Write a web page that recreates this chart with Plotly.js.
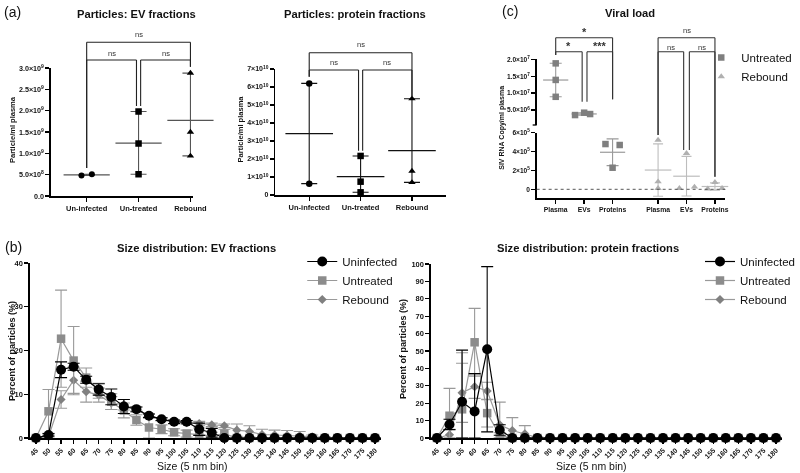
<!DOCTYPE html>
<html><head><meta charset="utf-8">
<script src="https://cdn.plot.ly/plotly-3.0.1.min.js"></script>
<style>html,body{margin:0;padding:0;background:#fff}#chart{width:800px;height:473px;filter:grayscale(100%)}</style>
</head><body><div id="chart"></div>
<script>
// ================= DATA =================
// (a) particles per ml plasma
const groupsA = ['Un-infected', 'Un-treated', 'Rebound'];
const evUninfected = [4.8e8, 5.1e8];
const evUntreated = [1.98e9, 1.23e9, 5.1e8];
const evRebound = [2.88e9, 1.5e9, 9.4e8];
const protUninfected = [6.2e10, 6.3e9];
const protUntreated = [2.17e10, 7.4e9, 1.5e9];
const protRebound = [5.35e10, 1.33e10, 7.0e9];
const evTickVals = [0, 5e8, 1e9, 1.5e9, 2e9, 2.5e9, 3e9];
const evTickText = ['0.0', '5.0×10<sup>8</sup>', '1.0×10<sup>9</sup>', '1.5×10<sup>9</sup>', '2.0×10<sup>9</sup>', '2.5×10<sup>9</sup>', '3.0×10<sup>9</sup>'];
const protTickVals = [0, 1e10, 2e10, 3e10, 4e10, 5e10, 6e10, 7e10];
const protTickText = ['0', '1×10<sup>10</sup>', '2×10<sup>10</sup>', '3×10<sup>10</sup>', '4×10<sup>10</sup>', '5×10<sup>10</sup>', '6×10<sup>10</sup>', '7×10<sup>10</sup>'];

// (c) viral load (SIV RNA copies/ml plasma)
const vlCategories = ['Plasma', 'EVs', 'Proteins', 'Plasma', 'EVs', 'Proteins'];
const vlUntreatedPlasma = [1.88e7, 1.39e7, 8.9e6];
const vlUntreatedEVs = [3.5e6, 4.2e6, 3.8e6];
const vlUntreatedProteins = [4.78e5, 4.68e5, 2.28e5];
const vlReboundPlasma = [5.2e5, 8.0e4, 1.0e4];
const vlReboundEVs = [3.8e5, 1.0e4, 2.5e4];
const vlReboundProteins = [5.0e3, 7.4e4, 1.0e4];
const vlUpperTickVals = [5e6, 1e7, 1.5e7, 2e7];
const vlUpperTickText = ['5.0×10<sup>6</sup>', '1.0×10<sup>7</sup>', '1.5×10<sup>7</sup>', '2.0×10<sup>7</sup>'];
const vlLowerTickVals = [0, 2e5, 4e5, 6e5];
const vlLowerTickText = ['0', '2×10<sup>5</sup>', '4×10<sup>5</sup>', '6×10<sup>5</sup>'];

// (b) size distribution, percent of particles per 5 nm bin (mean, SD)
const sizeBins = ['45','50','55','60','65','70','75','80','85','90','95','100','105','110','115','120','125','130','135','140','145','150','155','160','165','170','175','180'];
const evUninfectedMean = [0, 0.7, 15.6, 16.3, 13.3, 11.1, 9.4, 7.2, 6.6, 5.1, 4.3, 3.7, 3.7, 2.0, 1.2, 0, 0, 0, 0, 0, 0, 0, 0, 0, 0, 0, 0, 0];
const evUninfectedSD   = [0, 0.3, 1.8, 0.8, 0.8, 1.3, 1.8, 1.6, 0.5, 0.4, 0.3, 0.4, 0.3, 1.4, 1.0, 0, 0, 0, 0, 0, 0, 0, 0, 0, 0, 0, 0, 0];
const evUntreatedMean  = [0, 6.1, 22.7, 17.7, 13.8, 10.8, 8.3, 6.3, 4.1, 2.4, 2.0, 1.3, 1.0, 0.8, 0.5, 1.0, 0, 0, 0, 0, 0, 0, 0, 0, 0, 0, 0, 0];
const evUntreatedSD    = [0, 5.0, 11.1, 7.8, 2.2, 1.7, 1.8, 1.7, 1.2, 2.4, 1.0, 0.8, 0.8, 1.5, 0.8, 1.0, 0, 0, 0, 0, 0, 0, 0, 0, 0, 0, 0, 0];
const evReboundMean    = [0, 0.3, 8.8, 13.2, 10.6, 9.8, 8.0, 7.6, 6.5, 5.0, 4.3, 3.6, 3.5, 3.3, 3.0, 2.8, 1.8, 1.5, 0.8, 0.7, 0.6, 0.5, 0.3, 0.1, 0, 0, 0, 0];
const evReboundSD      = [0, 0.3, 2.0, 3.0, 2.4, 1.6, 1.5, 1.2, 0.6, 0.5, 0.4, 0.4, 0.4, 0.5, 0.4, 0.4, 1.4, 1.3, 1.2, 1.1, 1.1, 1.0, 0.4, 0.2, 0, 0, 0, 0];
const protUninfectedMean = [0, 7.8, 20.8, 15.3, 51.0, 4.6, 0, 0, 0, 0, 0, 0, 0, 0, 0, 0, 0, 0, 0, 0, 0, 0, 0, 0, 0, 0, 0, 0];
const protUninfectedSD   = [0, 3.0, 29.7, 21.7, 47.5, 3.0, 0, 0, 0, 0, 0, 0, 0, 0, 0, 0, 0, 0, 0, 0, 0, 0, 0, 0, 0, 0, 0, 0];
const protUntreatedMean  = [0, 12.8, 16.5, 55.0, 14.3, 1.5, 0, 0, 0, 0, 0, 0, 0, 0, 0, 0, 0, 0, 0, 0, 0, 0, 0, 0, 0, 0, 0, 0];
const protUntreatedSD    = [0, 15.7, 32.5, 19.5, 8.0, 1.5, 0, 0, 0, 0, 0, 0, 0, 0, 0, 0, 0, 0, 0, 0, 0, 0, 0, 0, 0, 0, 0, 0];
const protReboundMean    = [0, 1.8, 26.0, 29.5, 27.0, 7.6, 4.3, 2.4, 0.3, 0, 0, 0, 0, 0, 0, 0, 0, 0, 0, 0, 0, 0, 0, 0, 0, 0, 0, 0];
const protReboundSD      = [0, 3.2, 17.0, 6.7, 5.0, 13.0, 7.4, 4.7, 0.3, 0, 0, 0, 0, 0, 0, 0, 0, 0, 0, 0, 0, 0, 0, 0, 0, 0, 0, 0];

// horizontal scatter offsets of individual points (category units)
const jitEvUninfected = [-0.1, 0.1];
const jitVlUntreatedEVs = [-0.32, 0, 0.21];
const jitVlUntreatedProteins = [-0.25, 0.25, 0];
const jitVlReboundEVs = [0, -0.25, 0.28];
const jitVlReboundProteins = [-0.25, 0, 0.25];

// ================= HELPERS =================
const W = 800, H = 473;
const F = 'Arial, "Liberation Sans", Helvetica, sans-serif';
const dx = p => p / W;
const dy = p => 1 - p / H;
const mean = a => a.reduce((s, v) => s + v, 0) / a.length;
const sd = a => { const m = mean(a); return Math.sqrt(a.reduce((s, v) => s + (v - m) * (v - m), 0) / (a.length - 1)); };

const traces = [];

// dot plot: points + mean line + error (range or SD)
function dots(vals, pos, jit, xa, ya, sym, msize, mcolor, lcolor, errKind, meanW, capW, extra) {
  const m = mean(vals);
  let up, dn;
  if (errKind === 'range') { up = Math.max(...vals) - m; dn = m - Math.min(...vals); }
  else { up = sd(vals); dn = up; }
  traces.push({
    type: 'scatter', mode: 'markers', xaxis: xa, yaxis: ya, x: [pos], y: [m],
    marker: {symbol: 'line-ew', size: meanW, color: lcolor, line: {width: 1.2, color: lcolor}},
    error_y: {type: 'data', symmetric: false, array: [up], arrayminus: [dn], width: capW, thickness: 1.1, color: lcolor},
    showlegend: false, hoverinfo: 'skip', cliponaxis: false
  });
  traces.push(Object.assign({
    type: 'scatter', mode: 'markers', xaxis: xa, yaxis: ya,
    x: vals.map((v, i) => pos + (jit ? jit[i] : 0)), y: vals,
    marker: {symbol: sym, size: msize, color: mcolor},
    showlegend: false, cliponaxis: false
  }, extra || {}));
}

// (a) left
dots(evUninfected, 0, jitEvUninfected, 'x', 'y', 'circle', 6, '#000', '#555', 'range', 33, 8);
dots(evUntreated, 1, null, 'x', 'y', 'square', 6.5, '#000', '#555', 'range', 33, 8);
dots(evRebound, 2, null, 'x', 'y', 'triangle-up', 6.5, '#000', '#555', 'range', 33, 8);
// (a) right
dots(protUninfected, 0, null, 'x2', 'y2', 'circle', 6.5, '#000', '#111', 'range', 34, 8);
dots(protUntreated, 1, null, 'x2', 'y2', 'square', 6.5, '#000', '#111', 'range', 34, 8);
dots(protRebound, 2, null, 'x2', 'y2', 'triangle-up', 6.5, '#000', '#111', 'range', 34, 8);
// (c)
const cU = '#7f7f7f', cUl = '#9a9a9a', cR = '#b0b0b0', cRl = '#bdbdbd';
dots(vlUntreatedPlasma, 1, null, 'x3', 'y4', 'square', 6.5, cU, cUl, 'sd', 18, 6,
  {showlegend: true, name: 'Untreated', legend: 'legend3'});
dots(vlUntreatedEVs, 2, jitVlUntreatedEVs, 'x3', 'y4', 'square', 6.5, cU, cUl, 'sd', 18, 6);
dots(vlUntreatedProteins, 3, jitVlUntreatedProteins, 'x3', 'y3', 'square', 6.5, cU, cUl, 'sd', 18, 6);
dots(vlReboundPlasma, 4.6, null, 'x3', 'y3', 'triangle-up', 6.5, cR, cRl, 'sd', 19, 5,
  {showlegend: true, name: 'Rebound', legend: 'legend3'});
dots(vlReboundEVs, 5.6, jitVlReboundEVs, 'x3', 'y3', 'triangle-up', 6.5, cR, cRl, 'sd', 19, 5);
dots(vlReboundProteins, 6.6, jitVlReboundProteins, 'x3', 'y3', 'triangle-up', 6.5, cR, cRl, 'sd', 19, 5);

// (b) size distribution lines
function sizeLine(name, m, s, xa, ya, leg, sym, size, color, lcolor) {
  traces.push({
    type: 'scatter', mode: 'lines+markers', name: name, legend: leg, xaxis: xa, yaxis: ya,
    x: sizeBins, y: m,
    line: {color: lcolor, width: 1.2},
    marker: {symbol: sym, size: size, color: color},
    error_y: {type: 'data', symmetric: false, array: s, arrayminus: s.map((v, i) => Math.min(v, m[i])),
      width: 6, thickness: 1.1, color: lcolor},
    cliponaxis: false
  });
}
sizeLine('Rebound', evReboundMean, evReboundSD, 'x5', 'y5', 'legend', 'diamond', 7, '#808080', '#9a9a9a');
sizeLine('Untreated', evUntreatedMean, evUntreatedSD, 'x5', 'y5', 'legend', 'square', 8.5, '#8c8c8c', '#999999');
sizeLine('Uninfected', evUninfectedMean, evUninfectedSD, 'x5', 'y5', 'legend', 'circle', 10, '#000', '#000');
sizeLine('Rebound', protReboundMean, protReboundSD, 'x6', 'y6', 'legend2', 'diamond', 7, '#808080', '#9a9a9a');
sizeLine('Untreated', protUntreatedMean, protUntreatedSD, 'x6', 'y6', 'legend2', 'square', 8.5, '#8c8c8c', '#999999');
sizeLine('Uninfected', protUninfectedMean, protUninfectedSD, 'x6', 'y6', 'legend2', 'circle', 10, '#000', '#000');

// ================= LAYOUT =================
const axBase = {
  showline: true, linecolor: '#000', linewidth: 1.5, ticks: 'outside', ticklen: 4, tickwidth: 1.3,
  tickcolor: '#000', showgrid: false, zeroline: false, fixedrange: true,
  tickfont: {family: F, size: 7, color: '#111', weight: 'bold'}
};
const ax = o => Object.assign({}, axBase, o, {tickfont: Object.assign({}, axBase.tickfont, o.tickfont || {})});

const shapes = [];
const annotations = [];
function seg(xref, x0, x1, py0, py1, color) {
  shapes.push({type: 'line', xref: xref, yref: 'paper', x0: x0, x1: x1, y0: dy(py0), y1: dy(py1),
    line: {color: color || '#222', width: 1.1}});
}
function bracket(xref, x1, x2, top, leg1, leg2, label, labelY, lsize, color) {
  seg(xref, x1, x1, top, leg1, color);
  seg(xref, x1, x2, top, top, color);
  seg(xref, x2, x2, top, leg2, color);
  annotations.push({xref: xref, yref: 'paper', x: (x1 + x2) / 2, y: dy(labelY),
    text: label === 'ns' ? label : '<b>' + label + '</b>', showarrow: false,
    xanchor: 'center', yanchor: 'middle', font: {family: F, size: lsize, color: '#333333'}});
}
// (a) brackets
bracket('x', 0, 2, 42.3, 168, 66.7, 'ns', 34, 7.5);
bracket('x', 0, 0.96, 60, 168, 106, 'ns', 54, 7.5);
bracket('x', 1.04, 2, 60, 106, 66.7, 'ns', 54, 7.5);
bracket('x2', 0, 2, 52.7, 76.7, 96.7, 'ns', 45, 7.5);
bracket('x2', 0, 0.96, 70, 76.7, 150.7, 'ns', 63, 7.5);
bracket('x2', 1.04, 2, 70, 150.7, 96.7, 'ns', 63, 7.5);
// (c) brackets
bracket('x3', 1, 3, 37.7, 55, 99.3, '*', 32, 11, '#333');
bracket('x3', 1, 1.93, 51.7, 55, 101.7, '*', 46, 11, '#333');
bracket('x3', 2.1, 3, 51.7, 101.7, 99.3, '***', 46, 11, '#333');
bracket('x3', 4.6, 6.6, 37.7, 135, 176.7, 'ns', 30, 7.5, '#333');
bracket('x3', 4.6, 5.5, 51.7, 135, 150, 'ns', 47, 7.5, '#333');
bracket('x3', 5.7, 6.6, 51.7, 150, 176.7, 'ns', 47, 7.5, '#333');
// (c) zero line and axis break mark
shapes.push({type: 'line', xref: 'x3 domain', yref: 'y3', x0: 0, x1: 1, y0: 0, y1: 0,
  line: {color: '#555', width: 1, dash: 'dot'}});
shapes.push({type: 'line', xref: 'paper', yref: 'paper', x0: dx(534), x1: dx(538), y0: dy(125), y1: dy(125),
  line: {color: '#000', width: 1.3}});

function txt(x, y, t, size, opts) {
  annotations.push(Object.assign({xref: 'paper', yref: 'paper', x: dx(x), y: dy(y), text: t, showarrow: false,
    xanchor: 'center', yanchor: 'middle', font: {family: F, size: size, color: '#111'}}, opts || {}));
}
txt(13, 12, '(a)', 14);
txt(511, 11, '(c)', 14);
txt(14, 247, '(b)', 14);
txt(137, 14, '<b>Particles: EV fractions</b>', 11.2);
txt(356, 14, '<b>Particles: protein fractions</b>', 11.2);
txt(632, 13, '<b>Viral load</b>', 11.2);
txt(197, 248, '<b>Size distribution: EV fractions</b>', 11.2);
txt(589, 248, '<b>Size distribution: protein fractions</b>', 11.2);
txt(193, 466, 'Size (5 nm bin)', 10.5);
txt(593, 466, 'Size (5 nm bin)', 10.5);
txt(12, 129, '<b>Particle/ml plasma</b>', 7.5, {textangle: -90});
txt(241, 129, '<b>Particle/ml plasma</b>', 7.5, {textangle: -90});
txt(503, 128, '<b>SIV RNA Copy/ml plasma</b>', 7, {textangle: -90});
txt(12, 351, '<b>Percent of particles (%)</b>', 9, {textangle: -90});
txt(404, 349, '<b>Percent of particles (%)</b>', 9, {textangle: -90});

const legFont = {family: F, size: 11.5, color: '#111'};
const layout = {
  width: W, height: H, autosize: false,
  margin: {l: 0, r: 0, t: 0, b: 0, pad: 0},
  paper_bgcolor: '#fff', plot_bgcolor: 'rgba(0,0,0,0)',
  font: {family: F, color: '#111'},
  showlegend: true,
  xaxis: ax({domain: [dx(51), dx(193)], anchor: 'y', range: [-0.69, 2.04], tickmode: 'array', tickvals: [0, 1, 2], ticktext: groupsA, tickfont: {size: 7.5}}),
  yaxis: ax({domain: [dy(196), dy(68)], anchor: 'x', range: [0, 3e9], tickmode: 'array', tickvals: evTickVals, ticktext: evTickText, tickfont: {size: 7.2}}),
  xaxis2: ax({domain: [dx(276), dx(447)], anchor: 'y2', range: [-0.66, 2.66], tickmode: 'array', tickvals: [0, 1, 2], ticktext: groupsA, tickfont: {size: 7.5}}),
  yaxis2: ax({domain: [dy(195), dy(69)], anchor: 'x2', range: [0, 7e10], tickmode: 'array', tickvals: protTickVals, ticktext: protTickText, tickfont: {size: 7}}),
  xaxis3: ax({domain: [dx(538), dx(727)], anchor: 'y3', range: [0.33, 6.96], tickmode: 'array', tickvals: [1, 2, 3, 4.6, 5.6, 6.6], ticktext: vlCategories, tickfont: {size: 6.8}}),
  yaxis3: ax({domain: [dy(198.3), dy(132.5)], anchor: 'x3', range: [-0.95e5, 6e5], tickmode: 'array', tickvals: vlLowerTickVals, ticktext: vlLowerTickText, tickfont: {size: 6.6}}),
  yaxis4: ax({domain: [dy(125), dy(59.3)], anchor: 'x3', range: [5.6e5, 2e7], tickmode: 'array', tickvals: vlUpperTickVals, ticktext: vlUpperTickText, tickfont: {size: 6.6}}),
  xaxis5: ax({domain: [dx(30), dx(382)], anchor: 'y5', type: 'category', range: [-0.48, 27.48], tickangle: -45, tickfont: {size: 7}}),
  yaxis5: ax({domain: [dy(438), dy(263)], anchor: 'x5', range: [0, 40], dtick: 10, tickfont: {size: 7.5}}),
  xaxis6: ax({domain: [dx(432), dx(784)], anchor: 'y6', type: 'category', range: [-0.48, 27.48], tickangle: -45, tickfont: {size: 7}}),
  yaxis6: ax({domain: [dy(438), dy(264)], anchor: 'x6', range: [0, 100], dtick: 10, tickfont: {size: 7.5}}),
  legend: {x: dx(303), y: dy(247), xanchor: 'left', yanchor: 'top', bgcolor: 'rgba(0,0,0,0)', font: legFont, traceorder: 'reversed', itemclick: false, tracegroupgap: 0},
  legend2: {x: dx(702), y: dy(247), xanchor: 'left', yanchor: 'top', bgcolor: 'rgba(0,0,0,0)', font: legFont, traceorder: 'reversed', itemclick: false, tracegroupgap: 0},
  legend3: {x: dx(703), y: dy(43), xanchor: 'left', yanchor: 'top', bgcolor: 'rgba(0,0,0,0)', font: legFont, itemclick: false, tracegroupgap: 0},
  shapes: shapes,
  annotations: annotations
};

Plotly.newPlot('chart', traces, layout, {staticPlot: true, displayModeBar: false});
</script>
</body></html>
